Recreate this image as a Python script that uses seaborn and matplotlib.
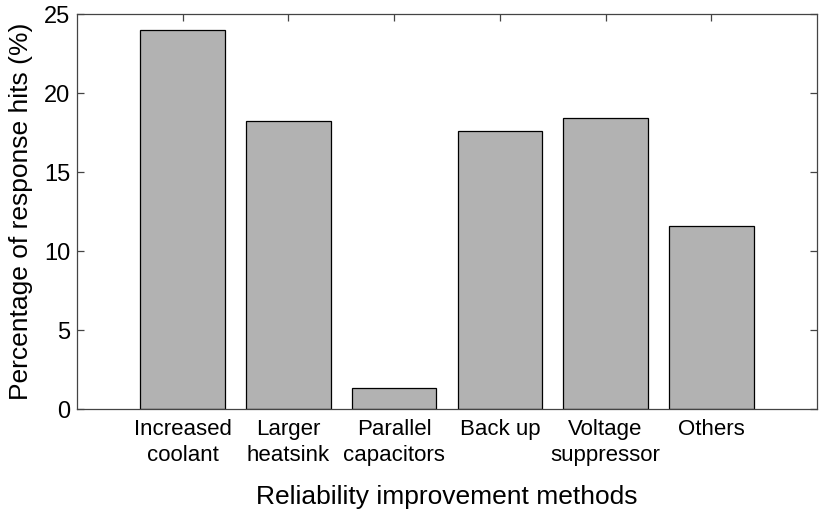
import pandas as pd
import matplotlib
matplotlib.use("Agg")
import matplotlib.pyplot as plt
import seaborn as sns

# values
methods = [
    "Increased\ncoolant",
    "Larger\nheatsink",
    "Parallel\ncapacitors",
    "Back up",
    "Voltage\nsuppressor",
    "Others",
]
hits = [24.0, 18.2, 1.35, 17.6, 18.4, 11.6]

df = pd.DataFrame({"method": methods, "hits": hits})

sns.set_style("white")
plt.rcParams["font.family"] = ["Liberation Sans", "DejaVu Sans"]
plt.rcParams["text.color"] = "black"
plt.rcParams["axes.labelcolor"] = "black"

fig = plt.figure(figsize=(8.23, 5.11), dpi=100)
ax = fig.add_axes([0.0936, 0.1996, 0.8991, 0.773])

sns.barplot(
    data=df,
    x="method",
    y="hits",
    color="#b2b2b2",
    saturation=1,
    width=0.8,
    edgecolor="black",
    linewidth=0.9,
    ax=ax,
)

ax.set_xlim(-1, 6)
ax.set_ylim(0, 25)
ax.set_yticks([0, 5, 10, 15, 20, 25])

for side in ax.spines.values():
    side.set_visible(True)
    side.set_color("#444444")
    side.set_linewidth(0.9)

ax.tick_params(axis="both", direction="in", length=5, width=0.9,
               color="#444444", labelcolor="black")
ax.tick_params(axis="x", bottom=False, top=True, labelsize=16, pad=7)
ax.tick_params(axis="y", left=True, right=True, labelsize=17, pad=5)
for lbl in ax.get_xticklabels():
    lbl.set_linespacing(1.3)

ax.set_xlabel("Reliability improvement methods", fontsize=19, labelpad=14)
ax.set_ylabel("Percentage of response hits (%)", fontsize=19, labelpad=8)

fig.savefig("out.png", dpi=100)
